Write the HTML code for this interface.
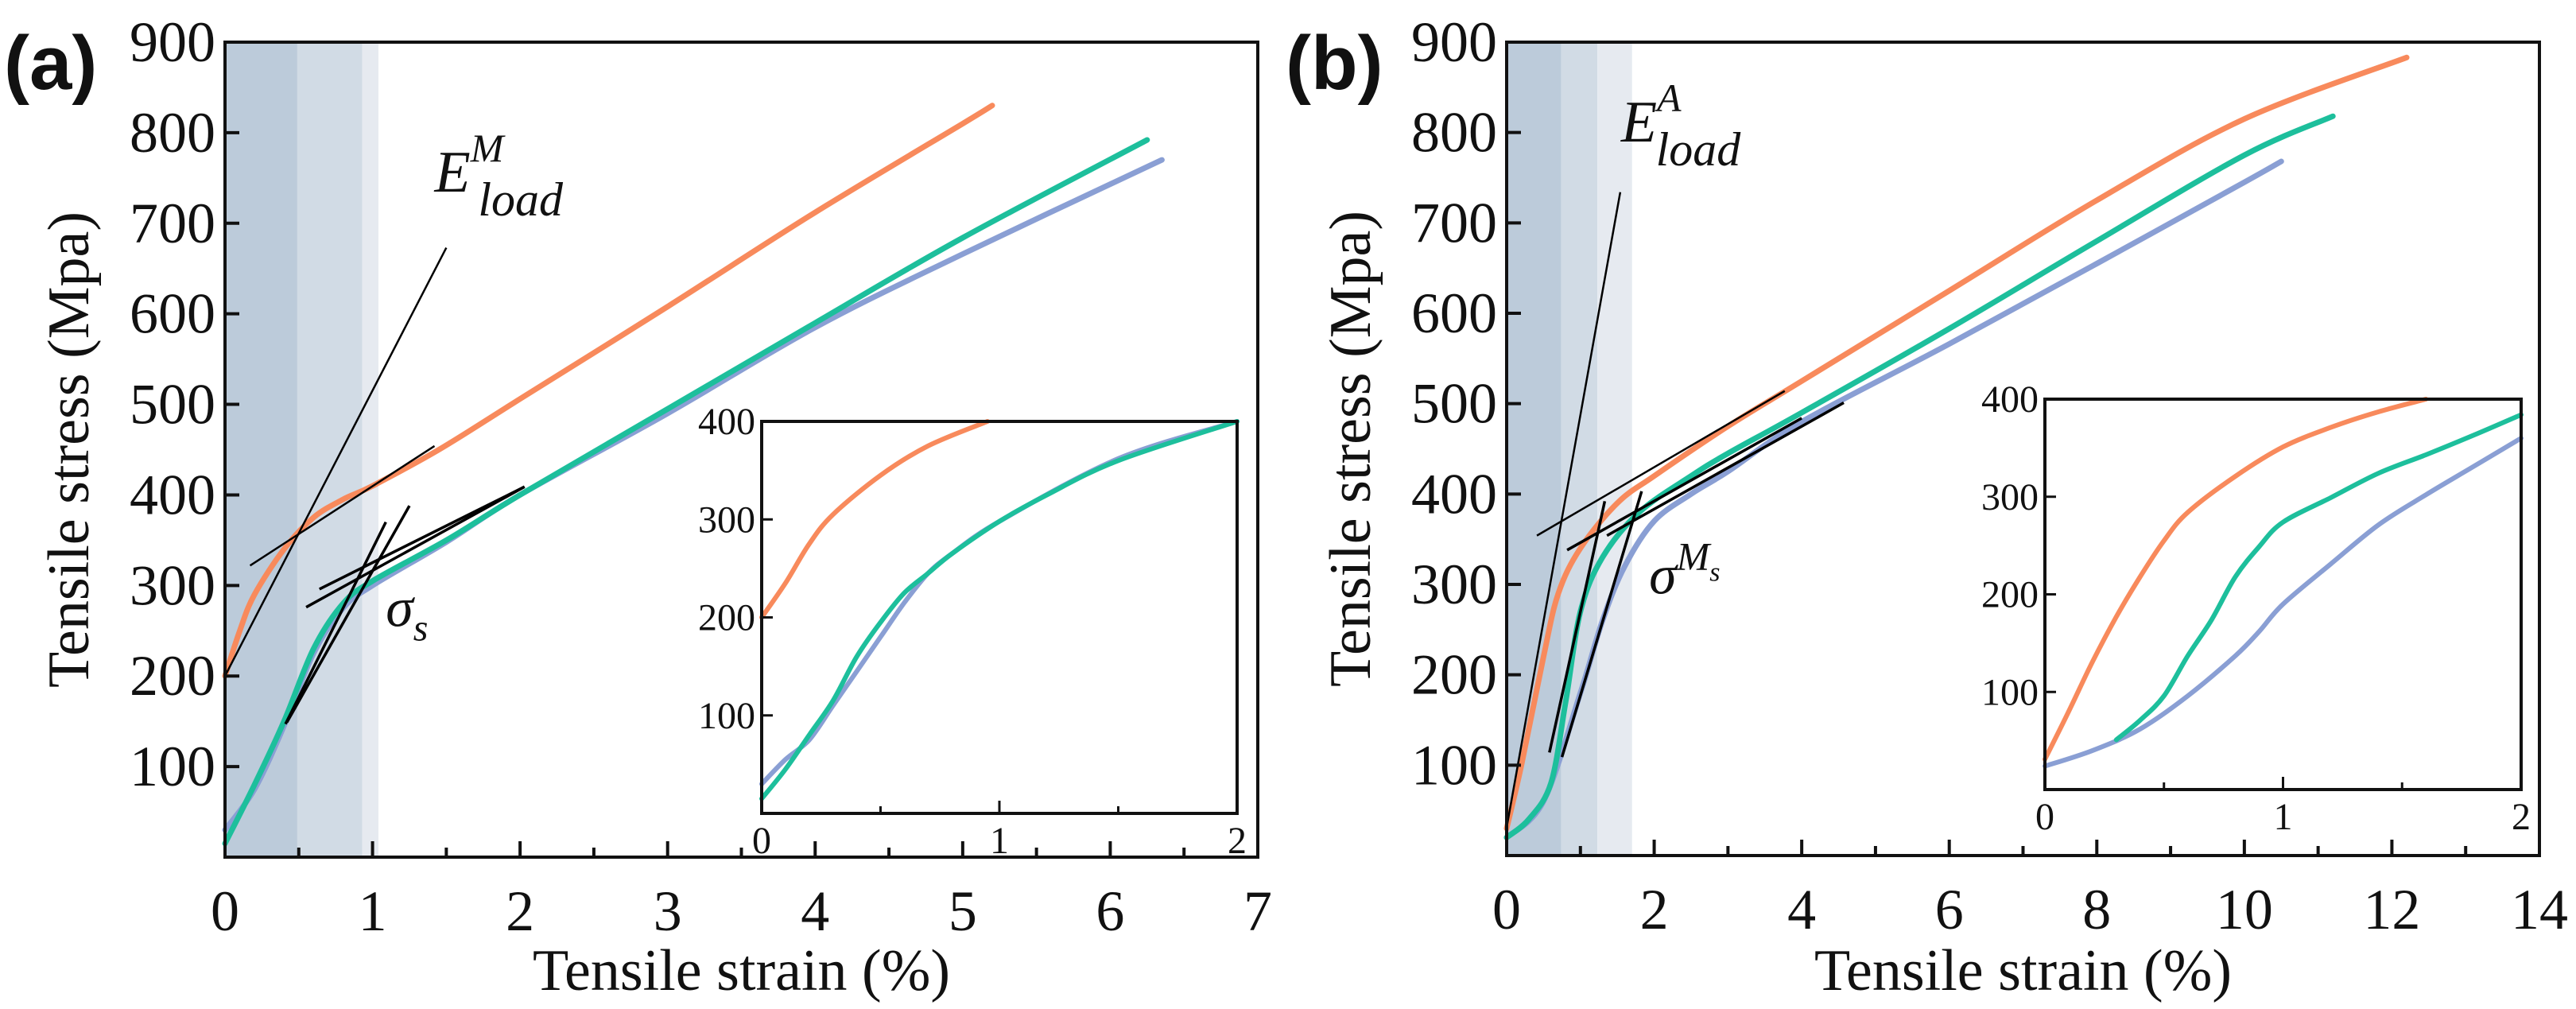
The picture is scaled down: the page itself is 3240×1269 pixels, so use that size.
<!DOCTYPE html>
<html><head><meta charset="utf-8"><style>
html,body{margin:0;padding:0;background:#fff;}
svg{display:block;}
text{font-family:"Liberation Serif",serif;fill:#111;}
</style></head>
<body>
<svg id="fig" width="3240" height="1269" viewBox="0 0 3240 1269" xmlns="http://www.w3.org/2000/svg"></svg>
<script>
// ---- Panel (a) data ----
const aOrangeX=[0,0.1,0.2,0.4,0.6,0.8,1.0,1.45,2,3,4,5,5.2];
const aOrangeY=[200,250,290,340,375,395,410,450,506,608,712,810,830];
const aGreenX=[0,0.2,0.4,0.6,0.8,1.0,1.5,2.0,3,4,5,6.25];
const aGreenY=[15,80,150,230,280,305,350,400,495,590,684,792];
const aBlueX=[0,0.2,0.4,0.6,0.8,1.0,1.5,2.0,3,4,5,6.35];
const aBlueY=[30,75,145,225,275,300,348,400,490,585,666,770];
const aInOrangeX=[0,0.1,0.2,0.3,0.5,0.7,0.95];
const aInOrangeY=[200,235,275,305,345,375,400];
const aInGreenX=[0,0.1,0.2,0.3,0.4,0.5,0.6,0.7,0.8,1.0,1.2,1.5,2];
const aInGreenY=[15,45,80,115,160,195,225,245,265,298,325,360,400];
const aInBlueX=[0,0.1,0.2,0.3,0.4,0.5,0.6,0.7,0.8,1.0,1.5,2];
const aInBlueY=[30,55,75,110,145,180,215,245,265,298,362,400];
const aBands=[[0,0.49,'#bccbda'],[0.49,0.93,'#d1dbe5'],[0.93,1.04,'#e6eaf0']];
const aTangents=[[0,200,1.5,673],[0.17,322,1.42,454],[0.41,147,1.09,370],[0.42,149,1.25,388],[0.55,276,2.03,409],[0.64,296,2.03,409]];
// ---- Panel (b) data ----
const bOrangeX=[0,0.2,0.5,0.7,1.0,1.5,2,3,4,6,8,10,12.2];
const bOrangeY=[30,100,220,290,340,390,420,475,525,625,725,815,883];
const bGreenX=[0,0.3,0.6,0.8,1.0,1.3,1.8,2.5,3,4,6,8,10,11.2];
const bGreenY=[20,40,80,170,270,330,380,420,445,490,583,680,775,818];
const bBlueX=[0,0.5,1.0,1.3,1.6,2,2.5,3,4,6,8,10,10.5];
const bBlueY=[20,60,180,260,320,370,400,425,480,566,655,745,768];
const bInOrangeX=[0,0.1,0.2,0.3,0.4,0.5,0.6,0.8,1.0,1.2,1.4,1.6];
const bInOrangeY=[31,80,131,177,218,255,284,321,351,371,387,400];
const bInGreenX=[0.3,0.4,0.5,0.6,0.7,0.8,0.9,1.0,1.2,1.4,1.6,1.8,2.0];
const bInGreenY=[51,71,96,137,174,218,249,274,299,324,343,363,384];
const bInBlueX=[0,0.2,0.4,0.6,0.8,0.9,1.0,1.2,1.4,1.6,1.8,2.0];
const bInBlueY=[24,40,62,96,137,162,190,231,271,302,331,360];
const bBands=[[0,0.74,'#bccbda'],[0.74,1.23,'#d1dbe5'],[1.23,1.7,'#e6eaf0']];
const bTangents=[[0,31,1.54,734],[0.41,354,3.77,514],[0.82,338,4.0,484],[1.36,354,4.57,501],[0.58,114,1.33,392],[0.75,109,1.83,403]];
const yTicksMain=[100,200,300,400,500,600,700,800,900];
const yTicksInset=[100,200,300,400];

const NS='http://www.w3.org/2000/svg';
const svg=document.getElementById('fig');
function el(tag,attrs,parent){const e=document.createElementNS(NS,tag);for(const k in attrs)e.setAttribute(k,attrs[k]);(parent||svg).appendChild(e);return e;}
function scale(d0,d1,p0,p1){return v=>p0+(v-d0)/(d1-d0)*(p1-p0);}
function linePath(xs,ys,sx,sy){
  const P=xs.map((x,i)=>[sx(x),sy(ys[i])]);
  let d='M'+P[0][0].toFixed(1)+' '+P[0][1].toFixed(1);
  for(let i=0;i<P.length-1;i++){
    const p0=P[i-1]||P[i],p1=P[i],p2=P[i+1],p3=P[i+2]||p2;
    const c1=[p1[0]+(p2[0]-p0[0])/6,p1[1]+(p2[1]-p0[1])/6];
    const c2=[p2[0]-(p3[0]-p1[0])/6,p2[1]-(p3[1]-p1[1])/6];
    d+=' C'+c1.map(v=>v.toFixed(1)).join(' ')+' '+c2.map(v=>v.toFixed(1)).join(' ')+' '+p2[0].toFixed(1)+' '+p2[1].toFixed(1);
  }
  return d;
}

const COL={o:'#f88a5c',g:'#1dbf9c',b:'#8a9fd4'};

function panel(p){
  const g=el('g',{});
  
  
  const sx=scale(0,p.xmax,p.L,p.R), sy=scale(0,900,p.B,p.T);
  p.bands.forEach((b,i)=>{
    const r=el('rect',{x:sx(b[0]),y:p.T,width:sx(b[1])-sx(b[0]),height:p.B-p.T,fill:b[2]},g);
    
    
  });
  p.series.forEach(s=>{
    const path=el('path',{d:linePath(s.x,s.y,sx,sy),fill:'none',stroke:s.c,'stroke-width':7,'stroke-linejoin':'round','stroke-linecap':'round'},g);
    
    
  });
  p.tangents.forEach((t,i)=>{
    const l=el('line',{x1:sx(t[0]),y1:sy(t[1]),x2:sx(t[2]),y2:sy(t[3]),stroke:'#000','stroke-width':i>=2?3.5:2.5},g);
    
    
  });
  const fr=el('rect',{x:p.L,y:p.T,width:p.R-p.L,height:p.B-p.T,fill:'none',stroke:'#111','stroke-width':4},g);
  
  
  for(let v=0;v<=p.xmax+1e-9;v+=p.xminor){
    const maj=Math.abs(v/p.xstep-Math.round(v/p.xstep))<1e-6;
    el('line',{x1:sx(v),x2:sx(v),y1:p.B,y2:p.B-(maj?20:12),stroke:'#111','stroke-width':4},g);
    if(maj){
      const t=el('text',{x:sx(v),y:p.B+92,'font-size':72,'text-anchor':'middle'},g);
      t.textContent=String(Math.round(v));
      
      
    }
  }
  yTicksMain.forEach(v=>{
    el('line',{x1:p.L,x2:p.L+18,y1:sy(v),y2:sy(v),stroke:'#111','stroke-width':4},g);
    const t=el('text',{x:p.L-12,y:sy(v)+24,'font-size':72,'text-anchor':'end'},g);
    t.textContent=String(v);
    
    
  });
  const xt=el('text',{x:(p.L+p.R)/2,y:1245,'font-size':74,'text-anchor':'middle'},g);
  xt.textContent='Tensile strain (%)';
  
  
  const yt=el('text',{x:0,y:0,'font-size':74,'text-anchor':'middle',transform:`translate(${p.L-172},${(p.T+p.B)/2}) rotate(-90)`},g);
  yt.textContent='Tensile stress (Mpa)';
  
  
  const pl=el('text',{x:p.L-278,y:112,'font-size':96,'font-weight':'bold',style:'font-family:"Liberation Sans",sans-serif'},g);
  pl.textContent=p.label;
  
  
  p.notes(g,sx,sy);
  const I=p.inset;
  const ix=scale(0,2,I.L,I.R), iy=scale(0,400,I.B,I.T);
  const ig=el('g',{},g);
  
  
  el('rect',{x:I.L,y:I.T,width:I.R-I.L,height:I.B-I.T,fill:'#fff'},ig);
  I.series.forEach(s=>{
    const path=el('path',{d:linePath(s.x,s.y,ix,iy),fill:'none',stroke:s.c,'stroke-width':6,'stroke-linejoin':'round','stroke-linecap':'round'},ig);
    
    
  });
  el('rect',{x:I.L,y:I.T,width:I.R-I.L,height:I.B-I.T,fill:'none',stroke:'#111','stroke-width':4},ig);
  for(let v=0;v<=2.0001;v+=0.5){
    const maj=Math.abs(v-Math.round(v))<1e-6;
    el('line',{x1:ix(v),x2:ix(v),y1:I.B,y2:I.B-(maj?16:9),stroke:'#111','stroke-width':3},ig);
    if(maj){const t=el('text',{x:ix(v),y:I.B+50,'font-size':48,'text-anchor':'middle'},ig);t.textContent=String(v);
      
      }
  }
  yTicksInset.forEach(v=>{
    el('line',{x1:I.L,x2:I.L+14,y1:iy(v),y2:iy(v),stroke:'#111','stroke-width':3},ig);
    const t=el('text',{x:I.L-8,y:iy(v)+16,'font-size':48,'text-anchor':'end'},ig);t.textContent=String(v);
    
    
  });
}

function eLabel(g,x,y,sup,name){
  const t=el('text',{x:x,y:y,'font-size':74,'font-style':'italic'},g);
  
  
  t.innerHTML='E<tspan dy="-38" font-size="50">'+sup+'</tspan><tspan dx="-32" dy="68" font-size="60">load</tspan>';
}

panel({name:'panel-a',label:'(a)',L:283,R:1582,T:53,B:1078,xmax:7,xstep:1,xminor:0.5,
  bands:aBands,tangents:aTangents,
  series:[{n:'orange-curve',c:COL.o,x:aOrangeX,y:aOrangeY},{n:'blue-curve',c:COL.b,x:aBlueX,y:aBlueY},{n:'green-curve',c:COL.g,x:aGreenX,y:aGreenY}],
  notes:(g,sx,sy)=>{
    eLabel(g,sx(1.42),sy(735),'M','e-load-m-label');
    const s=el('text',{x:sx(1.09),y:sy(255),'font-size':70,'font-style':'italic'},g);
    
    
    s.innerHTML='σ<tspan dy="18" font-size="48">s</tspan>';
  },
  inset:{L:958,R:1556,T:530,B:1023,series:[{n:'orange-curve',c:COL.o,x:aInOrangeX,y:aInOrangeY},{n:'blue-curve',c:COL.b,x:aInBlueX,y:aInBlueY},{n:'green-curve',c:COL.g,x:aInGreenX,y:aInGreenY}]}
});
panel({name:'panel-b',label:'(b)',L:1895,R:3194,T:53,B:1076,xmax:14,xstep:2,xminor:1,
  bands:bBands,tangents:bTangents,
  series:[{n:'orange-curve',c:COL.o,x:bOrangeX,y:bOrangeY},{n:'blue-curve',c:COL.b,x:bBlueX,y:bBlueY},{n:'green-curve',c:COL.g,x:bGreenX,y:bGreenY}],
  notes:(g,sx,sy)=>{
    eLabel(g,sx(1.55),sy(790),'A','e-load-a-label');
    const s=el('text',{x:sx(1.93),y:sy(290),'font-size':70,'font-style':'italic'},g);
    
    
    s.innerHTML='σ<tspan dy="-30" font-size="50">M</tspan><tspan dy="14" font-size="34">s</tspan>';
  },
  inset:{L:2572,R:3171,T:502,B:993,series:[{n:'orange-curve',c:COL.o,x:bInOrangeX,y:bInOrangeY},{n:'blue-curve',c:COL.b,x:bInBlueX,y:bInBlueY},{n:'green-curve',c:COL.g,x:bInGreenX,y:bInGreenY}]}
});
</script>
</body></html>
